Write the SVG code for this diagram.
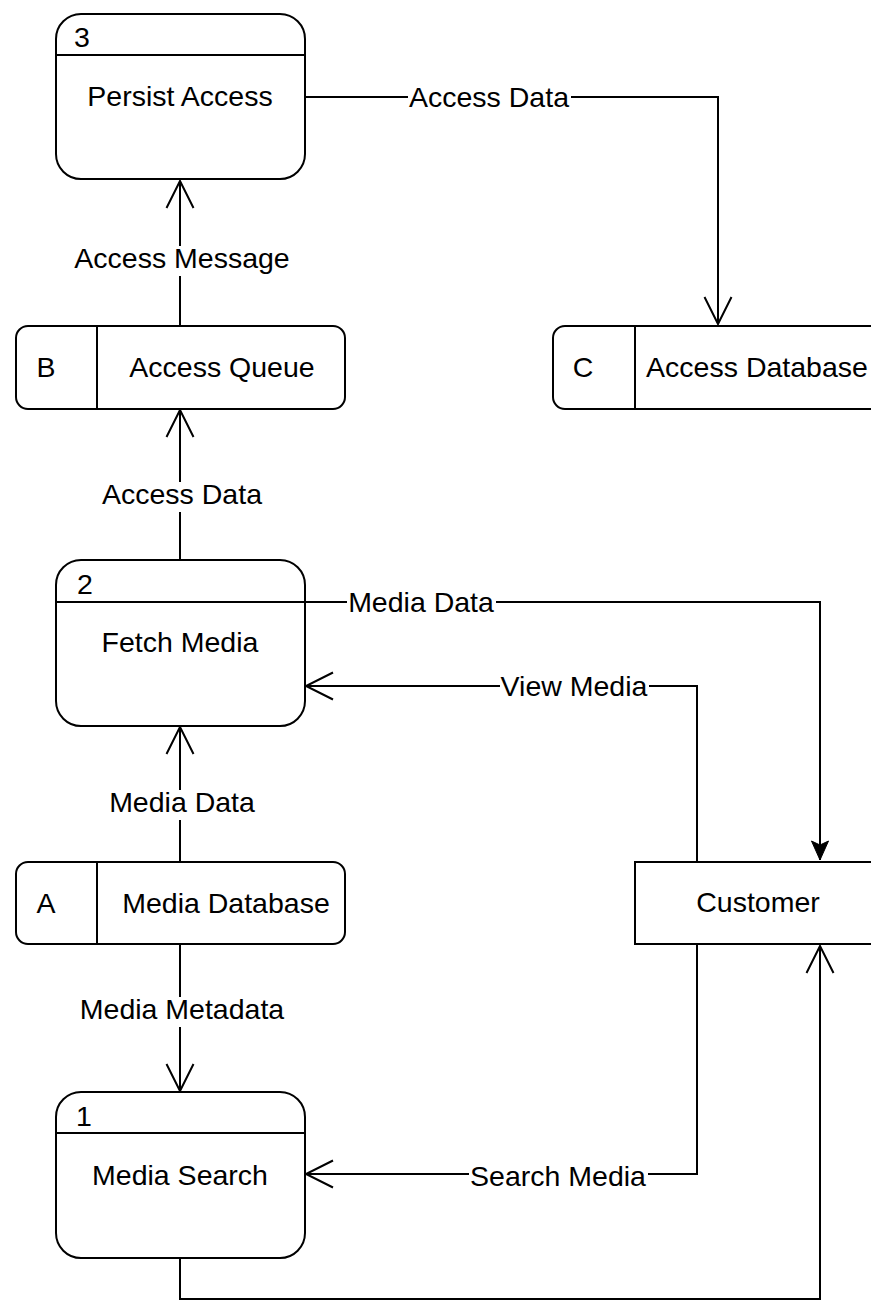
<svg xmlns="http://www.w3.org/2000/svg" width="871" height="1303" viewBox="0 0 871 1303">
<style>
.box{fill:#fff;stroke:#000;stroke-width:2}
.ln{fill:none;stroke:#000;stroke-width:2}
.bg{fill:#fff;stroke:none}
.t{font-family:"Liberation Sans",Arial,sans-serif;font-size:28.5px;fill:#000}
.m{text-anchor:middle}
</style>
<defs>
<marker id="open" markerUnits="userSpaceOnUse" markerWidth="40" markerHeight="40" viewBox="-30 -20 40 40" refX="0" refY="0" orient="auto" overflow="visible">
<path d="M-27,-13.5 L0,0 L-27,13.5" fill="none" stroke="#000" stroke-width="2"/>
</marker>
<marker id="solid" markerUnits="userSpaceOnUse" markerWidth="30" markerHeight="30" viewBox="-25 -15 30 30" refX="0" refY="0" orient="auto" overflow="visible">
<path d="M0,0 L-19,-8.5 L-15,0 L-19,8.5 Z" fill="#000" stroke="#000" stroke-width="1"/>
</marker>
</defs>
<g id="connectors">
<path class="ln" d="M305,97 H718 V324" marker-end="url(#open)"/>
<rect class="bg" x="408" y="85" width="163" height="28"/>
<text class="t m" x="489" y="107">Access Data</text>
<path class="ln" d="M180,326 V181" marker-end="url(#open)"/>
<rect class="bg" x="73" y="246" width="218" height="30"/>
<text class="t m" x="182" y="268">Access Message</text>
<path class="ln" d="M180,560 V410" marker-end="url(#open)"/>
<rect class="bg" x="101" y="482" width="163" height="30"/>
<text class="t m" x="182" y="504">Access Data</text>
<path class="ln" d="M305,602 H820 V860" marker-end="url(#solid)"/>
<rect class="bg" x="347" y="590" width="149" height="28"/>
<text class="t m" x="421" y="612">Media Data</text>
<path class="ln" d="M697,862 V686 H306" marker-end="url(#open)"/>
<rect class="bg" x="500" y="674" width="149" height="28"/>
<text class="t m" x="574" y="696">View Media</text>
<path class="ln" d="M180,862 V727" marker-end="url(#open)"/>
<rect class="bg" x="108" y="790" width="149" height="30"/>
<text class="t m" x="182" y="812">Media Data</text>
<path class="ln" d="M180,944 V1091" marker-end="url(#open)"/>
<rect class="bg" x="79" y="997" width="207" height="30"/>
<text class="t m" x="182" y="1019">Media Metadata</text>
<path class="ln" d="M697,944 V1174 H306" marker-end="url(#open)"/>
<rect class="bg" x="469" y="1162" width="179" height="28"/>
<text class="t m" x="558" y="1186">Search Media</text>
<path class="ln" d="M180,1258 V1299 H820 V946" marker-end="url(#open)"/>
</g>
<g id="node3">
<rect class="box" x="56" y="14" width="249" height="165" rx="25"/>
<line class="ln" x1="56" y1="55" x2="305" y2="55"/>
<text class="t" x="74" y="47">3</text>
<text class="t m" x="180" y="106">Persist Access</text>
</g>
<g id="nodeB">
<rect class="box" x="16" y="326" width="329" height="83" rx="12"/>
<line class="ln" x1="97" y1="326" x2="97" y2="409"/>
<text class="t m" x="46" y="377">B</text>
<text class="t m" x="222" y="377">Access Queue</text>
</g>
<g id="nodeC">
<rect class="box" x="553" y="326" width="329" height="83" rx="12"/>
<line class="ln" x1="635" y1="326" x2="635" y2="409"/>
<text class="t m" x="583" y="377">C</text>
<text class="t m" x="757" y="377">Access Database</text>
</g>
<g id="node2">
<rect class="box" x="56" y="560" width="249" height="166" rx="25"/>
<line class="ln" x1="56" y1="602" x2="305" y2="602"/>
<text class="t" x="77" y="594">2</text>
<text class="t m" x="180" y="652">Fetch Media</text>
</g>
<g id="nodeA">
<rect class="box" x="16" y="862" width="329" height="82" rx="12"/>
<line class="ln" x1="97" y1="862" x2="97" y2="944"/>
<text class="t m" x="46" y="913">A</text>
<text class="t m" x="226" y="913">Media Database</text>
</g>
<g id="customer">
<rect class="box" x="635" y="862" width="246" height="82"/>
<text class="t m" x="758" y="912">Customer</text>
</g>
<g id="node1">
<rect class="box" x="56" y="1092" width="249" height="166" rx="25"/>
<line class="ln" x1="56" y1="1133" x2="305" y2="1133"/>
<text class="t" x="76" y="1126">1</text>
<text class="t m" x="180" y="1185">Media Search</text>
</g>
</svg>
